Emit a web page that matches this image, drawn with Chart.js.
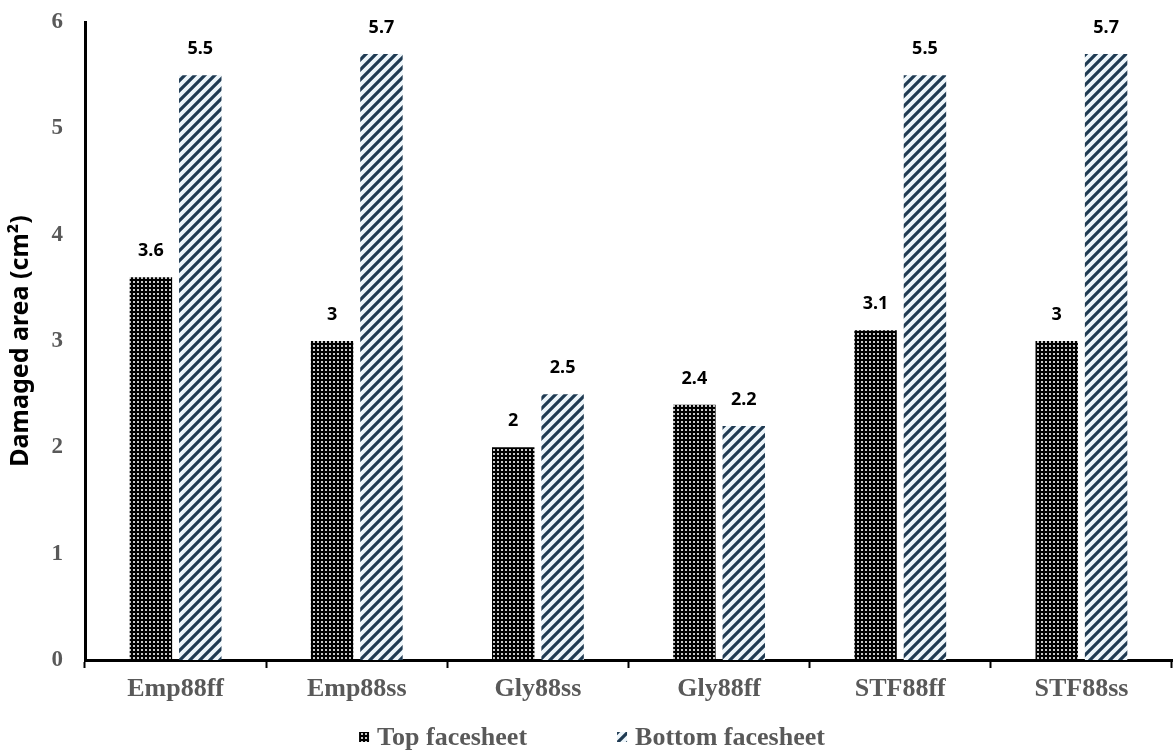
<!DOCTYPE html>
<html>
<head>
<meta charset="utf-8">
<script src="https://cdn.jsdelivr.net/npm/chart.js@4.4.1/dist/chart.umd.min.js"></script>
<style>
  html, body { margin: 0; padding: 0; background: #ffffff; }
  #wrap { width: 1174px; height: 751px; position: relative; }
</style>
</head>
<body>
<div id="wrap"><canvas id="chart"></canvas></div>
<script>
// Specimens and measured damaged area (cm²) for each facesheet
const categories = ['Emp88ff', 'Emp88ss', 'Gly88ss', 'Gly88ff', 'STF88ff', 'STF88ss'];
const topFacesheet = [3.6, 3, 2, 2.4, 3.1, 3];
const bottomFacesheet = [5.5, 5.7, 2.5, 2.2, 5.5, 5.7];
const yMin = 0;
const yMax = 6;
const yStep = 1;

const SERIF = '"Liberation Serif", "Times New Roman", serif';
const SANS = '"Noto Sans", "Liberation Sans", sans-serif';

// Dotted fill: black with a fine grid of light dots
function dotPattern() {
  const c = document.createElement('canvas');
  c.width = 4; c.height = 4;
  const g = c.getContext('2d');
  g.fillStyle = '#000000';
  g.fillRect(0, 0, 4, 4);
  g.fillStyle = '#c8c8c8';
  g.fillRect(1, 1, 2, 2);
  return g.createPattern(c, 'repeat');
}

// Hatched fill: dark navy diagonal stripes on a pale blue ground
function stripePattern() {
  const s = 10;
  const c = document.createElement('canvas');
  c.width = s; c.height = s;
  const g = c.getContext('2d');
  g.fillStyle = '#eef6fb';
  g.fillRect(0, 0, s, s);
  g.strokeStyle = '#1f3a52';
  g.lineWidth = 3.2;
  g.beginPath();
  g.moveTo(-2, s + 2); g.lineTo(s + 2, -2);
  g.moveTo(-2, 2); g.lineTo(2, -2);
  g.moveTo(s - 2, s + 2); g.lineTo(s + 2, s - 2);
  g.stroke();
  return g.createPattern(c, 'repeat');
}

// Value labels above each bar
const valueLabels = {
  id: 'valueLabels',
  afterDatasetsDraw(chart) {
    const ctx = chart.ctx;
    ctx.save();
    ctx.font = 'bold 18px ' + SANS;
    ctx.fillStyle = '#000000';
    ctx.textAlign = 'center';
    ctx.textBaseline = 'middle';
    chart.data.datasets.forEach((ds, i) => {
      const meta = chart.getDatasetMeta(i);
      meta.data.forEach((el, j) => {
        ctx.fillText(String(ds.data[j]), el.x, el.y - 26);
      });
    });
    ctx.restore();
  }
};

// Legend row under the axis: pattern swatch followed by the series name
const bottomLegend = {
  id: 'bottomLegend',
  afterDraw(chart) {
    const ctx = chart.ctx;
    const box = 10, gap = 8, itemGap = 90;
    const yCenter = chart.height - 14;
    ctx.save();
    ctx.font = 'bold 26px ' + SERIF;
    ctx.textBaseline = 'middle';
    ctx.textAlign = 'left';
    const items = chart.data.datasets.map(ds => ({
      text: ds.label,
      fill: ds.backgroundColor,
      w: box + gap + ctx.measureText(ds.label).width
    }));
    const total = items.reduce((a, it) => a + it.w, 0) + itemGap * (items.length - 1);
    let x = chart.width / 2 + 5 - total / 2;
    items.forEach(it => {
      ctx.fillStyle = it.fill;
      ctx.fillRect(x, yCenter - box / 2, box, box);
      ctx.fillStyle = '#595959';
      ctx.fillText(it.text, x + box + gap, yCenter + 1);
      x += it.w + itemGap;
    });
    ctx.restore();
  }
};

new Chart(document.getElementById('chart'), {
  type: 'bar',
  data: {
    labels: categories,
    datasets: [
      {
        label: 'Top facesheet',
        data: topFacesheet,
        backgroundColor: dotPattern(),
        borderWidth: 0,
        categoryPercentage: 0.545,
        barPercentage: 0.86
      },
      {
        label: 'Bottom facesheet',
        data: bottomFacesheet,
        backgroundColor: stripePattern(),
        borderWidth: 0,
        categoryPercentage: 0.545,
        barPercentage: 0.86
      }
    ]
  },
  options: {
    responsive: true,
    maintainAspectRatio: false,
    animation: false,
    layout: { padding: { top: 22, right: 2, left: 0, bottom: 41 } },
    plugins: {
      tooltip: { enabled: false },
      legend: { display: false }
    },
    scales: {
      x: {
        grid: {
          display: true,
          drawOnChartArea: false,
          drawTicks: true,
          tickLength: 8,
          tickWidth: 2,
          tickColor: '#000000',
          offset: true
        },
        border: { color: '#000000', width: 3 },
        ticks: {
          color: '#595959',
          padding: 6,
          font: { family: SERIF, weight: 'bold', size: 26 }
        },
        afterFit(scale) { scale.height = 50; }
      },
      y: {
        min: yMin,
        max: yMax,
        grid: { display: false, drawTicks: false },
        border: { color: '#000000', width: 3 },
        ticks: {
          stepSize: yStep,
          color: '#595959',
          padding: 22,
          font: { family: SERIF, weight: 'bold', size: 23 }
        },
        title: {
          display: true,
          text: 'Damaged area (cm²)',
          color: '#000000',
          padding: { top: 6, bottom: 0 },
          font: { family: SANS, weight: 'bold', size: 25 }
        },
        afterFit(scale) {
          scale.width = 85;
          scale.paddingTop = 0;
          scale.paddingBottom = 0;
        }
      }
    }
  },
  plugins: [valueLabels, bottomLegend]
});
</script>
</body>
</html>
